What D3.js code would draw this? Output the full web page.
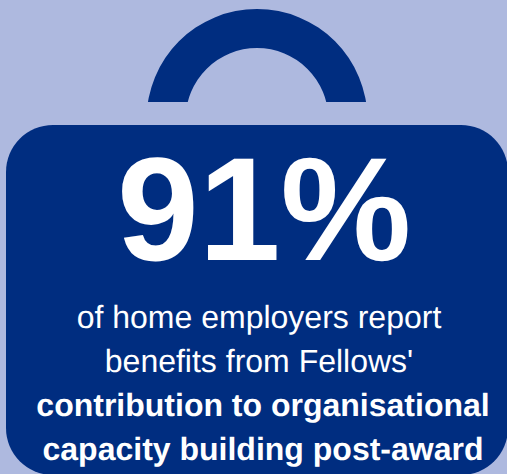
<!DOCTYPE html>
<html>
<head>
<meta charset="utf-8">
<script src="https://cdn.jsdelivr.net/npm/d3@7"></script>
<style>
  html, body { margin: 0; padding: 0; background: #aeb9df; }
  svg { display: block; }
  text { font-family: "Liberation Sans", Arial, sans-serif; fill: #fff; text-anchor: middle; text-rendering: geometricPrecision; }
</style>
</head>
<body>
<div id="chart"></div>
<script>
const bigNumber = "91%";
const captionLines = ["of home employers report", "benefits from Fellows'"];
const boldLines = ["contribution to organisational", "capacity building post-award"];

const width = 507, height = 474;
const navy = "#002d80";

const svg = d3.select("#chart").append("svg")
    .attr("width", width)
    .attr("height", height);

// handle of the bag is a ring cut off flat at the bottom
svg.append("clipPath")
    .attr("id", "handle-clip")
    .append("rect")
    .attr("width", width)
    .attr("height", 102);

const arc = d3.arc()
    .innerRadius(71.4)
    .outerRadius(110.4)
    .startAngle(0)
    .endAngle(2 * Math.PI);

svg.append("g")
    .attr("clip-path", "url(#handle-clip)")
    .append("path")
    .attr("transform", "translate(257,119.4)")
    .attr("d", arc)
    .attr("fill", navy);

// body of the bag
svg.append("rect")
    .attr("x", 6)
    .attr("y", 125)
    .attr("width", 502)
    .attr("height", 350)
    .attr("rx", 47)
    .attr("fill", navy);

svg.append("text")
    .attr("x", 264)
    .attr("y", 260)
    .attr("font-size", 147)
    .attr("font-weight", "bold")
    .text(bigNumber);

svg.selectAll(".caption")
    .data(captionLines)
    .enter().append("text")
    .attr("class", "caption")
    .attr("x", 259)
    .attr("y", (d, i) => 328 + i * 44)
    .attr("font-size", 32)
    .text(d => d);

svg.selectAll(".bold")
    .data(boldLines)
    .enter().append("text")
    .attr("class", "bold")
    .attr("x", 263)
    .attr("y", (d, i) => 416 + i * 44)
    .attr("font-size", 32)
    .attr("font-weight", "bold")
    .text(d => d);
</script>
</body>
</html>
